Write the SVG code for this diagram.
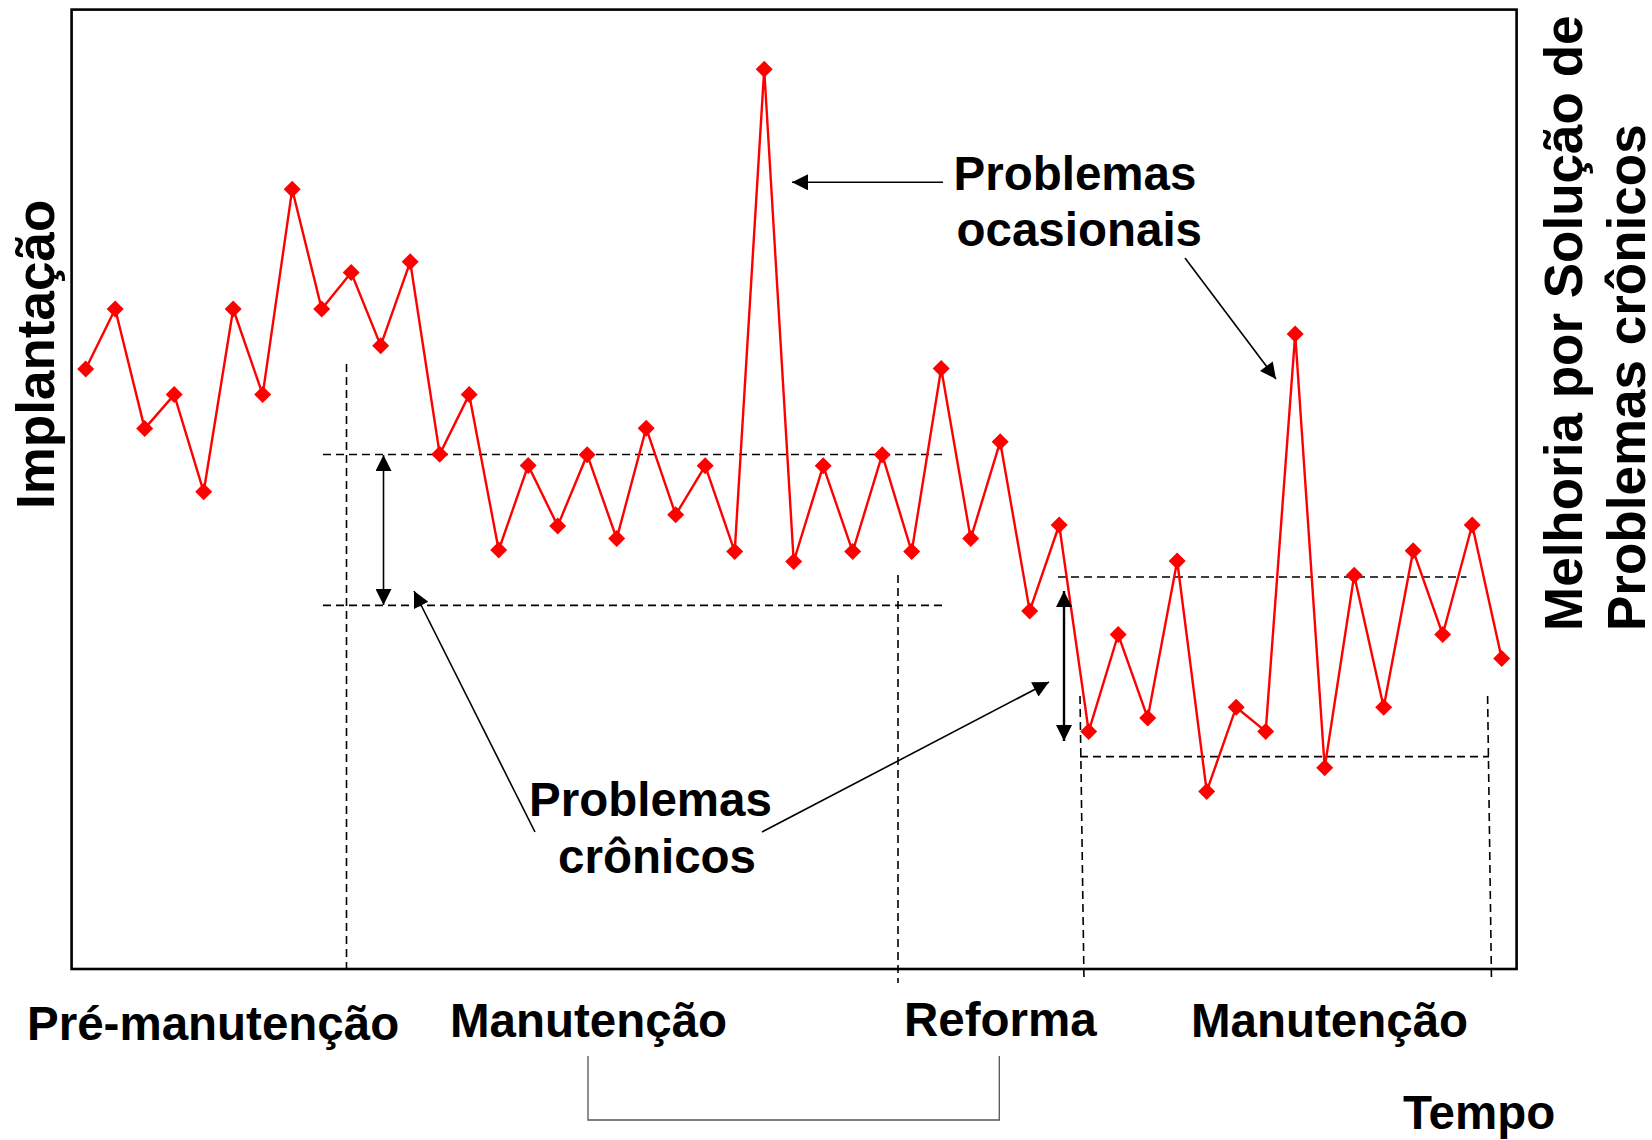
<svg xmlns="http://www.w3.org/2000/svg" width="1652" height="1140" viewBox="0 0 1652 1140">
<style>
.lbl{font-family:"Liberation Sans",Arial,sans-serif;font-weight:bold;font-size:47.5px;fill:#000}
.side{font-family:"Liberation Sans",Arial,sans-serif;font-weight:bold;font-size:53px;fill:#000}
.dash{fill:none;stroke:#000;stroke-width:1.6;stroke-dasharray:8,5}
.arr{fill:none;stroke:#000;stroke-width:1.6}
</style>
<defs>
<marker id="dia" markerUnits="userSpaceOnUse" markerWidth="20" markerHeight="20" viewBox="-10 -10 20 20" refX="0" refY="0" orient="0">
<path d="M0,-8.5 L8.5,0 L0,8.5 L-8.5,0Z" fill="#FF0000"/>
</marker>
<marker id="ah" markerUnits="userSpaceOnUse" markerWidth="18" markerHeight="16" viewBox="0 0 16 16" refX="16" refY="8" orient="auto">
<path d="M0,0 L16,8 L0,16Z" fill="#000"/>
</marker>
<marker id="ahs" markerUnits="userSpaceOnUse" markerWidth="18" markerHeight="16" viewBox="0 0 16 16" refX="0" refY="8" orient="auto">
<path d="M16,0 L0,8 L16,16Z" fill="#000"/>
</marker>
</defs>
<rect width="1652" height="1140" fill="#fff"/>
<!-- frame -->
<rect x="71.6" y="9.6" width="1445" height="959.4" fill="none" stroke="#000" stroke-width="2.6"/>
<!-- dashed guides -->
<g id="guides">
<line class="dash" x1="346.5" y1="364" x2="346.5" y2="969"/>
<line class="dash" x1="323" y1="454.5" x2="944" y2="454.5"/>
<line class="dash" x1="323" y1="605.4" x2="944" y2="605.4"/>
<line class="dash" x1="898" y1="575" x2="898" y2="983"/>
<line class="dash" x1="1058" y1="577" x2="1466.5" y2="577"/>
<line class="dash" x1="1080" y1="756.6" x2="1489" y2="756.6"/>
<line class="dash" x1="1080" y1="696" x2="1084" y2="982"/>
<line class="dash" x1="1487.6" y1="696" x2="1491.5" y2="982"/>
</g>
<!-- data series -->
<polyline fill="none" stroke="#FF0000" stroke-width="2.4" stroke-linejoin="miter" marker-start="url(#dia)" marker-mid="url(#dia)" marker-end="url(#dia)" points="85.7,369 115.2,309 144.7,428.6 174.2,394.6 203.7,491.8 233.2,309 262.7,394.6 292.2,189.3 321.7,309 351.2,272.5 380.7,345.7 410.2,261.8 439.7,454.3 469.2,394.6 498.7,550 528.2,465.4 557.7,525.9 587.2,454.7 616.7,538.6 646.2,428.2 675.7,514.8 705.2,465.8 734.7,551.6 764.2,69.2 793.7,561.5 823.2,465.8 852.7,551.6 882.2,454.7 911.7,551.6 941.2,368.5 970.7,538.6 1000.2,441.7 1029.7,610.9 1059.2,525 1088.7,731.4 1118.2,634.5 1147.7,718 1177.2,561 1206.7,791.4 1236.2,707.2 1265.7,731.4 1295.2,334.1 1324.7,767.7 1354.2,575.2 1383.7,707.2 1413.2,550.7 1442.7,634.5 1472.2,525 1501.7,658.6"/>
<!-- connectors -->
<g id="connectors">
<line class="arr" x1="383.5" y1="455" x2="383.5" y2="605" marker-start="url(#ahs)" marker-end="url(#ah)"/>
<line class="arr" style="stroke-width:2.4" x1="1064" y1="591" x2="1064" y2="741" marker-start="url(#ahs)" marker-end="url(#ah)"/>
<line class="arr" x1="943" y1="182.3" x2="792" y2="182.3" marker-end="url(#ah)"/>
<line class="arr" x1="1185" y1="258" x2="1276" y2="379" marker-end="url(#ah)"/>
<line class="arr" x1="535" y1="832" x2="414" y2="591" marker-end="url(#ah)"/>
<line class="arr" x1="762" y1="832" x2="1049" y2="682" marker-end="url(#ah)"/>
</g>
<!-- bracket -->
<polyline fill="none" stroke="#555" stroke-width="1.3" points="588,1056 588,1120 999.3,1120 999.3,1056"/>
<!-- labels -->
<g id="labels">
<text class="lbl" x="953.5" y="190">Problemas</text>
<text class="lbl" x="956.5" y="246">ocasionais</text>
<text class="lbl" x="529" y="815.5">Problemas</text>
<text class="lbl" x="558" y="873">crônicos</text>
<text class="lbl" x="27" y="1039.5">Pré-manutenção</text>
<text class="lbl" x="450" y="1036.5">Manutenção</text>
<text class="lbl" x="904" y="1035.5">Reforma</text>
<text class="lbl" x="1191" y="1036.5">Manutenção</text>
<text class="lbl" x="1403" y="1129">Tempo</text>
<text class="side" transform="translate(53.6,509) rotate(-90)">Implantação</text>
<text class="side" transform="translate(1581.7,631) rotate(-90)">Melhoria por Solução de</text>
<text class="side" transform="translate(1645,631) rotate(-90)">Problemas crônicos</text>
</g>
</svg>
